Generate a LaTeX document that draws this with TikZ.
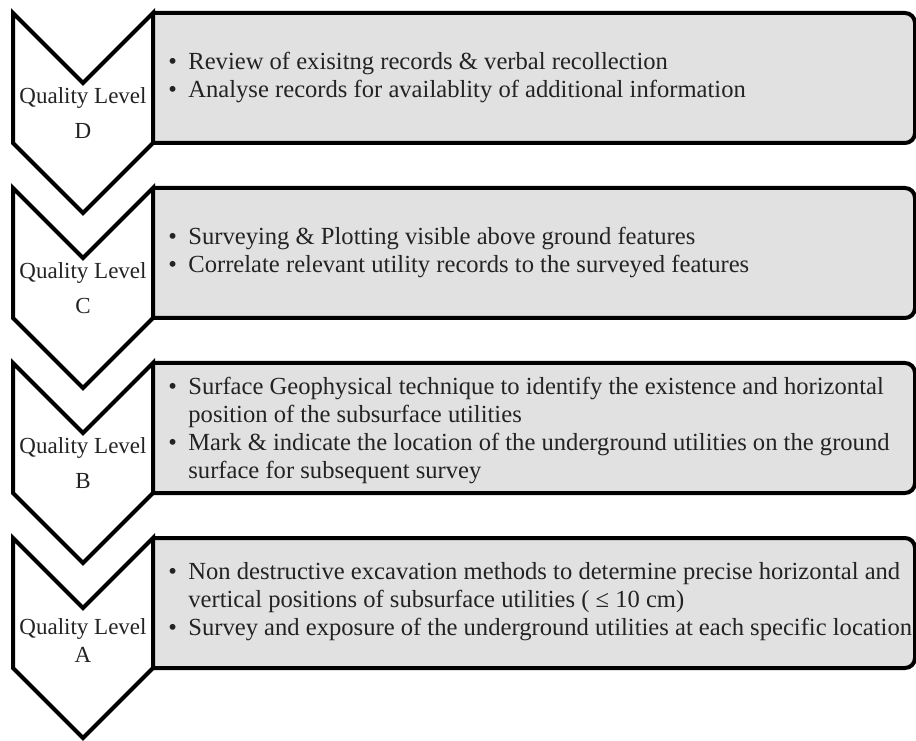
\documentclass[tikz,border=0pt]{standalone}
\usepackage{fontspec}
\setmainfont{Liberation Serif}
\usepackage{xcolor}
\usepackage{tikz}
\usetikzlibrary{positioning,backgrounds}
\definecolor{panelgray}{RGB}{225,225,225}
\definecolor{inkgray}{RGB}{35,35,35}
\newcommand{\bul}{\makebox[10pt][l]{\textbullet}}
\newcommand{\cont}{\hspace*{10pt}}

\begin{document}
\begin{tikzpicture}[
    x=1pt, y=1pt,
    font=\fontsize{11.5}{14}\selectfont,
    node distance=22.5pt,
    panel/.style={rectangle, inner sep=0pt, outer sep=0pt, minimum width=381pt, minimum height=65pt},
    frame/.style={draw=black, line width=2pt, fill=panelgray, rounded corners=5pt},
    chev/.style={draw=black, line width=2pt, fill=white, line join=miter},
    body/.style={anchor=west, align=left, inner sep=0pt, text=inkgray, font=\fontsize{12.3}{14}\selectfont},
    lvl/.style={align=center, inner sep=0pt, text=inkgray}
]
\useasboundingbox (0,0) rectangle (458,370);

% =========================================================
% Panels (one per quality level)
% =========================================================
\node[panel, anchor=north west] (pD) at (76.5,363.5) {};
\node[panel, below=of pD] (pC) {};
\node[panel, below=of pC] (pB) {};
\node[panel, below=of pB] (pA) {};

\begin{scope}[on background layer]
\draw[frame] (pD.north west) -- (pD.north east) -- (pD.south east) -- (pD.south west);
\draw[frame] (pC.north west) -- (pC.north east) -- (pC.south east) -- (pC.south west);
\draw[frame] (pB.north west) -- (pB.north east) -- (pB.south east) -- (pB.south west);
\draw[frame] (pA.north west) -- (pA.north east) -- (pA.south east) -- (pA.south west);
\end{scope}

% =========================================================
% Chevrons
% =========================================================
\draw[chev] (pD.north west) -- (pD.south west) -- ++(-35,-35) -- ++(-35,35) -- ++(0,65) -- ++(35,-35) -- cycle;
\draw[chev] (pC.north west) -- (pC.south west) -- ++(-35,-35) -- ++(-35,35) -- ++(0,65) -- ++(35,-35) -- cycle;
\draw[chev] (pB.north west) -- (pB.south west) -- ++(-35,-35) -- ++(-35,35) -- ++(0,65) -- ++(35,-35) -- cycle;
\draw[chev] (pA.north west) -- (pA.south west) -- ++(-35,-35) -- ++(-35,35) -- ++(0,65) -- ++(35,-35) -- cycle;

\node[lvl] (qD) at ([xshift=-35pt,yshift=-50pt]pD.north west) {Quality Level\\[3.5pt]D};
\node[lvl] (qC) at ([xshift=-35pt,yshift=-50pt]pC.north west) {Quality Level\\[3.5pt]C};
\node[lvl] (qB) at ([xshift=-35pt,yshift=-50pt]pB.north west) {Quality Level\\[3.5pt]B};
\node[lvl] (qA) at ([xshift=-35pt,yshift=-51.5pt]pA.north west) {Quality Level\\A};

% =========================================================
% Panel texts
% =========================================================
\node[body] (tD) at ([xshift=7.5pt,yshift=0.5pt]pD.west)
   {\bul Review of exisitng records \& verbal recollection\\
    \bul Analyse records for availablity of additional information};
\node[body] (tC) at ([xshift=7.5pt,yshift=0.5pt]pC.west)
   {\bul Surveying \& Plotting visible above ground features\\
    \bul Correlate relevant utility records to the surveyed features};
\node[body] (tB) at ([xshift=7.5pt,yshift=-1pt]pB.west)
   {\bul Surface Geophysical technique to identify the existence and horizontal\\
    \cont position of the subsurface utilities\\
    \bul Mark \& indicate the location of the underground utilities on the ground\\
    \cont surface for subsequent survey};
\node[body] (tA) at ([xshift=7.5pt,yshift=0.5pt]pA.west)
   {\bul Non destructive excavation methods to determine precise horizontal and\\
    \cont vertical positions of subsurface utilities ( ≤ 10 cm)\\
    \bul Survey and exposure of the underground utilities at each specific location};

\end{tikzpicture}
\end{document}
